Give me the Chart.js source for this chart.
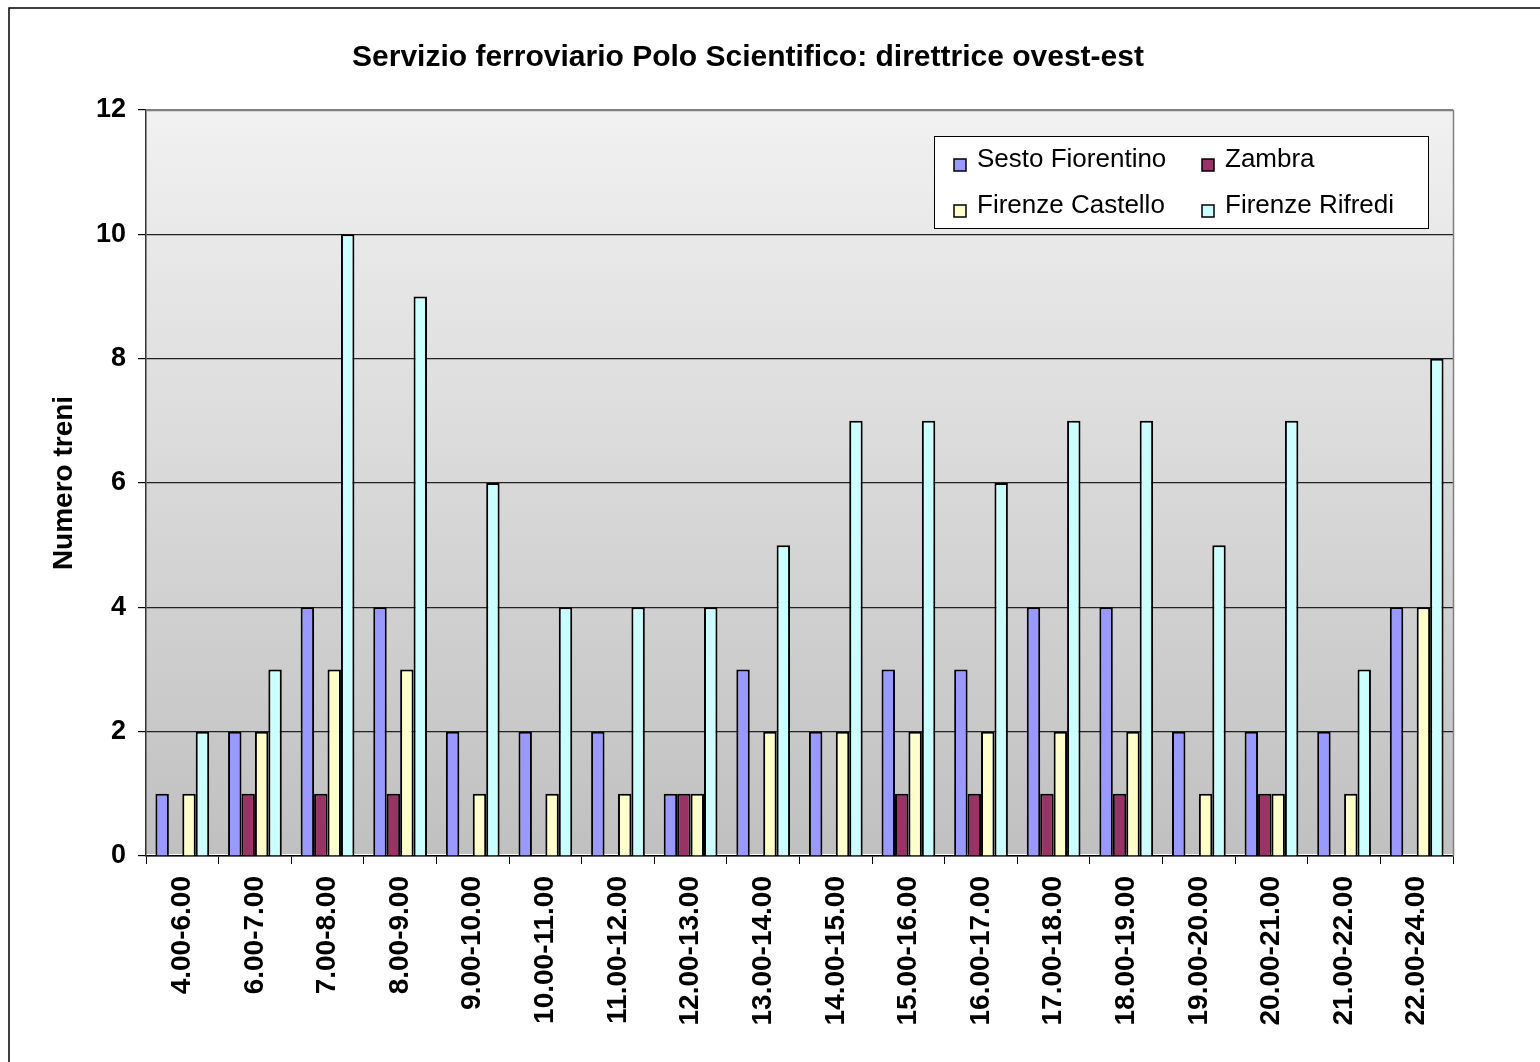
<!DOCTYPE html>
<html>
<head>
<meta charset="utf-8">
<script src="https://cdn.jsdelivr.net/npm/chart.js@4"></script>
<style>
    body { margin: 0; background: #fff; }
    #wrap { width: 1540px; height: 1062px; }
</style>
</head>
<body>
<div id="wrap"><canvas id="chart" width="1540" height="1062"></canvas></div>
<script>
let fasce = ["4.00-6.00", "6.00-7.00", "7.00-8.00", "8.00-9.00", "9.00-10.00", "10.00-11.00",
    "11.00-12.00", "12.00-13.00", "13.00-14.00", "14.00-15.00", "15.00-16.00", "16.00-17.00",
    "17.00-18.00", "18.00-19.00", "19.00-20.00", "20.00-21.00", "21.00-22.00", "22.00-24.00"];

let sestoFiorentino = [1, 2, 4, 4, 2, 2, 2, 1, 3, 2, 3, 3, 4, 4, 2, 2, 2, 4];
let zambra = [0, 1, 1, 1, 0, 0, 0, 1, 0, 0, 1, 1, 1, 1, 0, 1, 0, 0];
let firenzeCastello = [1, 2, 3, 3, 1, 1, 1, 1, 2, 2, 2, 2, 2, 2, 1, 1, 1, 4];
let firenzeRifredi = [2, 3, 10, 9, 6, 4, 4, 4, 5, 7, 7, 6, 7, 7, 5, 7, 3, 8];

let seriesNames = ["Sesto Fiorentino", "Zambra", "Firenze Castello", "Firenze Rifredi"];
let seriesColors = ["#9999FF", "#993366", "#FFFFCC", "#CCFFFF"];

let chartTitle = "Servizio ferroviario Polo Scientifico: direttrice ovest-est";
let font = "'Liberation Sans', Arial, sans-serif";

// gradient behind the plot, title, frame, plot border and legend box
let decorations = {
    id: "decorations",
    beforeDraw(chart) {
        let ctx = chart.ctx;
        let a = chart.chartArea;
        ctx.save();
        ctx.fillStyle = "#fff";
        ctx.fillRect(0, 0, chart.width, chart.height);
        let grad = ctx.createLinearGradient(0, a.top, 0, a.bottom);
        grad.addColorStop(0, "#f1f1f1");
        grad.addColorStop(1, "#c0c0c0");
        ctx.fillStyle = grad;
        ctx.fillRect(a.left, a.top, a.right - a.left, a.bottom - a.top - 2);
        ctx.restore();
    },
    afterDraw(chart) {
        let ctx = chart.ctx;
        let a = chart.chartArea;
        ctx.save();
        // title
        ctx.fillStyle = "#000";
        ctx.font = "bold 30px " + font;
        ctx.textAlign = "center";
        ctx.textBaseline = "alphabetic";
        ctx.fillText(chartTitle, 748, 66);

        // plot border top / right
        ctx.strokeStyle = "#808080";
        ctx.lineWidth = 1.5;
        ctx.beginPath();
        ctx.moveTo(a.left, a.top + 0.5);
        ctx.lineTo(a.right + 0.5, a.top + 0.5);
        ctx.lineTo(a.right + 0.5, a.bottom);
        ctx.stroke();

        // outer frame
        ctx.strokeStyle = "#000";
        ctx.lineWidth = 1.5;
        ctx.strokeRect(9, 8, chart.width + 20, chart.height + 20);

        // legend
        ctx.fillStyle = "#fff";
        ctx.fillRect(934.5, 136.5, 494, 92);
        ctx.strokeStyle = "#000";
        ctx.lineWidth = 1;
        ctx.strokeRect(934.5, 136.5, 494, 92);

        let colX = [954, 1202];
        let rowY = [159, 205];
        let baseY = [167, 213];
        ctx.font = "26px " + font;
        ctx.textAlign = "left";
        chart.data.datasets.forEach((ds, i) => {
            let c = i % 2;
            let r = Math.floor(i / 2);
            ctx.fillStyle = ds.backgroundColor;
            ctx.fillRect(colX[c], rowY[r], 12, 12);
            ctx.strokeStyle = "#000";
            ctx.lineWidth = 1.5;
            ctx.strokeRect(colX[c], rowY[r], 12, 12);
            ctx.fillStyle = "#000";
            ctx.fillText(ds.label, colX[c] + 23, baseY[r]);
        });
        ctx.restore();
    }
};

let allSeries = [sestoFiorentino, zambra, firenzeCastello, firenzeRifredi];

new Chart(document.getElementById("chart"), {
    type: "bar",
    data: {
        labels: fasce,
        datasets: allSeries.map((values, i) => ({
            label: seriesNames[i],
            data: values,
            backgroundColor: seriesColors[i],
            borderColor: "#000",
            borderWidth: 2,
            borderSkipped: "start",
            categoryPercentage: 0.74,
            barPercentage: 1
        }))
    },
    options: {
        responsive: false,
        animation: false,
        devicePixelRatio: 1,
        layout: { padding: { left: 0, right: 87, top: 110, bottom: 0 } },
        plugins: {
            legend: { display: false },
            tooltip: { enabled: false },
            title: { display: false }
        },
        scales: {
            x: {
                grid: {
                    offset: true,
                    drawOnChartArea: false,
                    drawTicks: true,
                    tickLength: 8,
                    color: "#000"
                },
                border: { color: "#000", width: 1.5 },
                ticks: {
                    autoSkip: false,
                    minRotation: 90,
                    maxRotation: 90,
                    padding: 12,
                    color: "#000",
                    font: { family: font, size: 28, weight: "bold" }
                },
                afterFit(scale) { scale.height = 206; }
            },
            y: {
                min: 0,
                max: 12,
                ticks: {
                    stepSize: 2,
                    padding: 12,
                    color: "#000",
                    font: { family: font, size: 27, weight: "bold" }
                },
                grid: {
                    color: ctx => ctx.tick && ctx.tick.value === 12 ? "#808080" : "#222",
                    lineWidth: 1.2,
                    tickLength: 8,
                    tickColor: "#000"
                },
                border: { color: "#333", width: 1.5 },
                title: {
                    display: true,
                    text: "Numero treni",
                    color: "#000",
                    font: { family: font, size: 28, weight: "bold", lineHeight: 1.2 },
                    padding: { top: 47, bottom: 0 }
                },
                afterFit(scale) { scale.width = 146; }
            }
        }
    },
    plugins: [decorations]
});
</script>
</body>
</html>
